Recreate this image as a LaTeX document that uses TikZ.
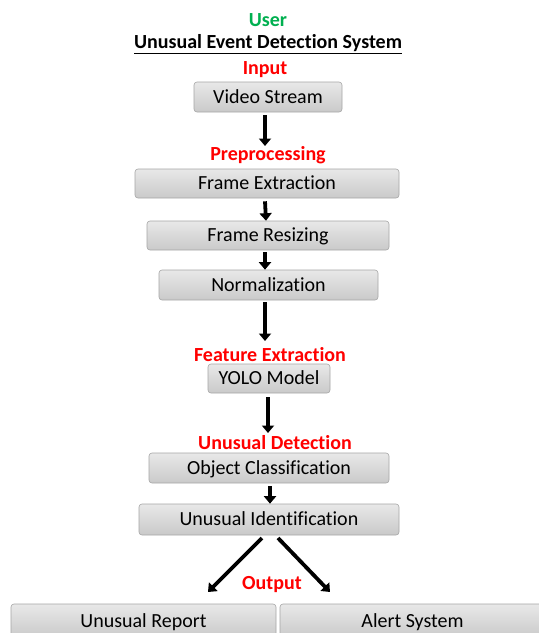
\documentclass[tikz,border=0pt]{standalone}
\usepackage{fontspec}
\setmainfont{Carlito}[RawFeature={-liga;-dlig;-calt;-clig}]
\usetikzlibrary{arrows.meta}
\definecolor{usergreen}{RGB}{0,176,80}
\tikzset{
  box/.style={draw=gray!70, line width=0.6pt, rounded corners=3pt, top color=gray!18, bottom color=gray!42,
    inner sep=0pt, font=\fontsize{20}{24}\selectfont, text height=15pt, text depth=3pt},
  head/.style={font=\bfseries\fontsize{20}{24}\selectfont, text=red, inner sep=0pt, yshift=-2pt},
  flow/.style={line width=3.8pt, -{Triangle[length=7.5pt,width=12pt]}},
}
\begin{document}
\begin{tikzpicture}[x=1pt,y=-1pt]
\useasboundingbox[fill=white] (0,0) rectangle (539,633);
\node[head, text=usergreen] (user) at (268,18) {User};
\node[font=\bfseries\fontsize{20}{24}\selectfont, inner sep=0pt] (title) at (268,44) {\underline{Unusual Event Detection System}};
\node[head] (input) at (265,68) {Input};
\node[box, minimum width=148pt, minimum height=30pt] (video) at (268,97) {Video Stream};
\node[head] (pre) at (268,153) {Preprocessing};
\node[box, minimum width=264pt, minimum height=29pt] (fe) at (267,183.5) {Frame Extraction};
\node[box, minimum width=242pt, minimum height=29pt] (fr) at (268,235.5) {Frame Resizing};
\node[box, minimum width=219pt, minimum height=30pt] (norm) at (268.5,285) {Normalization};
\node[head] (feat) at (270,353) {Feature Extraction};
\node[box, minimum width=122pt, minimum height=29pt] (yolo) at (269,378.5) {YOLO Model};
\node[head] (det) at (275,441) {Unusual Detection};
\node[box, minimum width=240pt, minimum height=30pt] (obj) at (269,468) {Object Classification};
\node[box, minimum width=260pt, minimum height=31pt] (uid) at (269,519.5) {Unusual Identification};
\node[head] (out) at (272,583) {Output};
\node[box, minimum width=265pt, minimum height=34pt] (rep) at (143.5,621) {Unusual Report};
\node[box, minimum width=265pt, minimum height=34pt] (alert) at (412.5,621) {Alert System};
\coordinate (a1) at (262,538);
\coordinate (a2) at (278,538);
\coordinate (e1) at (208,592);
\coordinate (e2) at (330,592);
\draw[flow] ([xshift=-3pt,yshift=-3pt]video.south) -- ([xshift=-3pt]video.south |- 0,146);
\draw[flow] ([xshift=-2pt,yshift=-3pt]fe.south) -- ([xshift=-2pt]fr.north);
\draw[flow] ([xshift=-3pt,yshift=-2pt]fr.south) -- ([xshift=-3.5pt]norm.north);
\draw[flow] ([xshift=-3.5pt,yshift=-2pt]norm.south) -- ([xshift=-3.5pt]norm.south |- 0,341);
\draw[flow] ([xshift=-1pt,yshift=-4pt]yolo.south) -- ([xshift=-1pt]yolo.south |- 0,433);
\draw[flow] ([xshift=1pt,yshift=-3pt]obj.south) -- ([xshift=1pt]uid.north);
\draw[flow] (a1) -- (e1);
\draw[flow] (a2) -- (e2);
\end{tikzpicture}
\end{document}
